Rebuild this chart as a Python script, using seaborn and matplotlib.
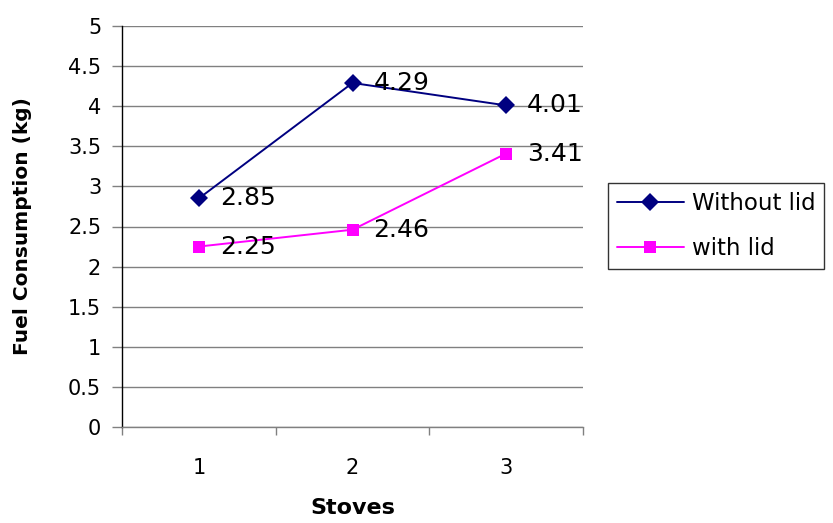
import matplotlib
matplotlib.use("Agg")
import matplotlib.pyplot as plt
import seaborn as sns
import pandas as pd
from matplotlib.ticker import FixedLocator, NullFormatter, FixedFormatter
from matplotlib.lines import Line2D

stoves = [1, 2, 3]
without_lid = [2.85, 4.29, 4.01]
with_lid = [2.25, 2.46, 3.41]
series_names = ["Without lid", "with lid"]
y_ticks = [0, 0.5, 1, 1.5, 2, 2.5, 3, 3.5, 4, 4.5, 5]
y_tick_labels = ["0", "0.5", "1", "1.5", "2", "2.5", "3", "3.5", "4", "4.5", "5"]

df = pd.DataFrame({
    "Stove": stoves * 2,
    "Fuel": without_lid + with_lid,
    "Series": [series_names[0]] * 3 + [series_names[1]] * 3,
})

sns.set_style("white")
plt.rcParams["font.family"] = ["DejaVu Sans"]
plt.rcParams["text.color"] = "black"
plt.rcParams["axes.labelcolor"] = "black"

fig = plt.figure(figsize=(8.33, 5.23), dpi=100)
ax = fig.add_axes([122 / 833, 1 - 427 / 523, (583 - 122) / 833, (427 - 26) / 523])

palette = {"Without lid": "#000080", "with lid": "#FF00FF"}
markers = {"Without lid": "D", "with lid": "s"}
sns.lineplot(data=df, x="Stove", y="Fuel", hue="Series", style="Series",
             palette=palette, markers=markers, dashes=False, markersize=9,
             markeredgewidth=0, linewidth=1.4, ax=ax, legend=False)

# value labels to the right of each point
for vals in (without_lid, with_lid):
    for x, v in zip(stoves, vals):
        ax.annotate(f"{v:.2f}", (x, v), xytext=(15, 0), textcoords="offset points",
                    ha="left", va="center", fontsize=18, color="black")

ax.set_xlim(0.5, 3.5)
ax.set_ylim(0, 5)
ax.yaxis.set_major_locator(FixedLocator(y_ticks))
ax.yaxis.set_major_formatter(FixedFormatter(y_tick_labels))
ax.yaxis.grid(True, color="#808080", linewidth=1)
ax.set_axisbelow(True)

# category boundaries as ticks, labels centred between them
ax.xaxis.set_major_locator(FixedLocator([0.5, 1.5, 2.5, 3.5]))
ax.xaxis.set_major_formatter(NullFormatter())
ax.xaxis.set_minor_locator(FixedLocator(stoves))
ax.xaxis.set_minor_formatter(FixedFormatter([str(s) for s in stoves]))
ax.tick_params(axis="x", which="major", direction="out", length=6, width=1, color="#808080", bottom=True)
ax.tick_params(axis="x", which="minor", length=0, labelsize=15, pad=22, labelcolor="black")
ax.tick_params(axis="y", which="major", direction="out", length=7, width=1, color="#808080",
               labelsize=15, pad=8, left=True, labelcolor="black")

for side in ("top", "right"):
    ax.spines[side].set_visible(False)
ax.spines["left"].set_color("black")
ax.spines["left"].set_linewidth(1)
ax.spines["bottom"].set_color("#808080")
ax.spines["bottom"].set_linewidth(1)

ax.set_xlabel("Stoves", fontsize=16, fontweight="bold", labelpad=15)
ax.set_ylabel("Fuel Consumption (kg)", fontsize=14.5, fontweight="bold", labelpad=26)

handles = [Line2D([], [], color=palette[n], marker=markers[n], markersize=9,
                  markeredgewidth=0, linewidth=1.4) for n in series_names]
leg = fig.legend(handles, series_names, loc="center left", bbox_to_anchor=(608 / 833, 1 - 226 / 523),
                 fontsize=16.5, frameon=True, fancybox=False, handlelength=2.9, borderpad=0.4,
                 labelspacing=0.95, handletextpad=0.35, borderaxespad=0)
leg.get_frame().set_edgecolor("black")
leg.get_frame().set_linewidth(1)

fig.savefig("out.png", dpi=100)
